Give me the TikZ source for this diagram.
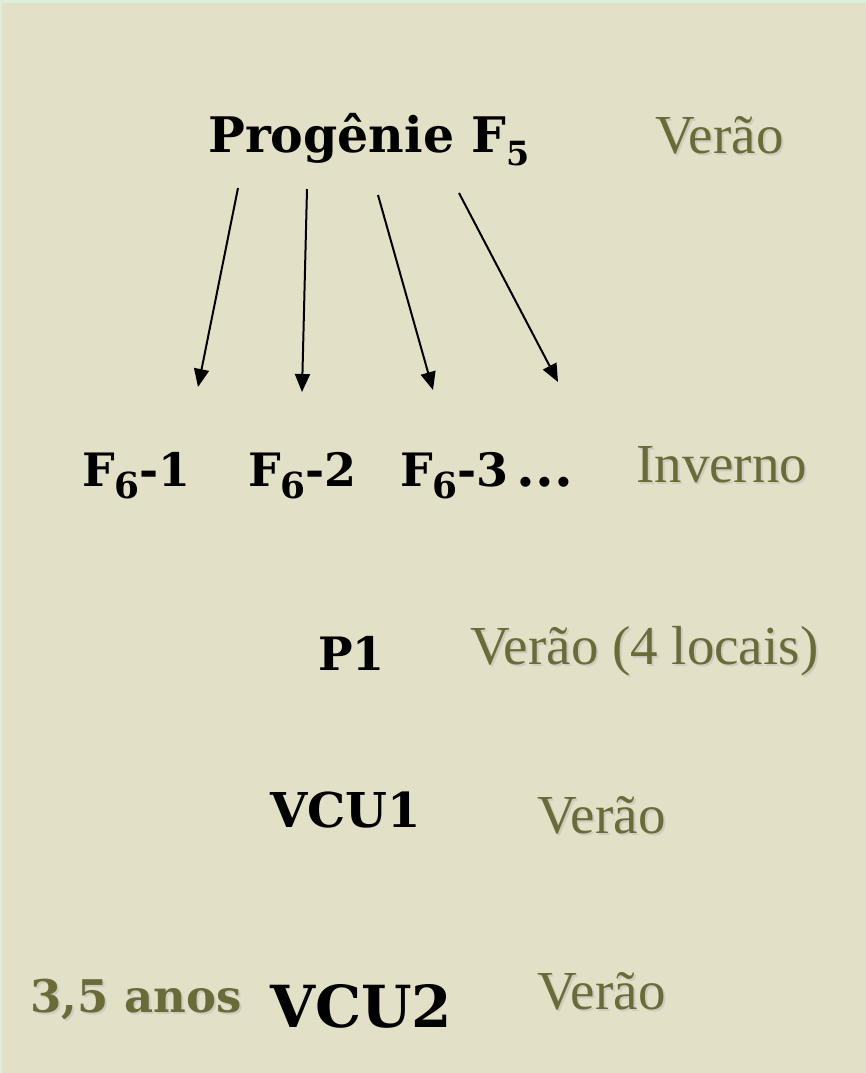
\documentclass[tikz,border=0pt]{standalone}
\usepackage{fontspec}
\setmainfont{Liberation Serif}
\newfontfamily\slab{DejaVu Serif}
\usetikzlibrary{arrows.meta}

\definecolor{paper}{HTML}{E2E0C6}
\definecolor{rim}{HTML}{DDEEDA}
\definecolor{olive}{HTML}{6B6B3A}

% lowered, reduced index digit used in the generation labels
\newcommand{\gensub}[2][0.68]{\raisebox{-0.28em}{\fontsize{#1em}{#1em}\selectfont #2}}

\tikzset{
  x=1pt, y=-1pt,
  bold/.style={anchor=base west, inner sep=0pt, font=\slab\bfseries},
  season/.style={anchor=base west, inner sep=0pt, text=olive},
  haze/.style={anchor=base west, inner sep=0pt, text=black!25, opacity=0.6},
  arrowline/.style={line width=2pt, -{Triangle[length=18pt,width=15pt]}}
}

\begin{document}
\begin{tikzpicture}
  % page and frame
  \fill[rim] (0,0) rectangle (866,1073);
  \fill[paper] (2,3) rectangle (866,1073);
  \useasboundingbox (0,0) rectangle (866,1073);

  % generation labels
  \node[bold, font=\slab\bfseries\fontsize{49}{49}\selectfont] (f5) at (208,152) {Progênie F\gensub{5}};
  \node[bold, font=\slab\bfseries\fontsize{46}{46}\selectfont] (f61) at (82,486) {F\gensub[0.78]{6}-1};
  \node[bold, font=\slab\bfseries\fontsize{46}{46}\selectfont] (f62) at (248,486) {F\gensub[0.78]{6}-2};
  \node[bold, font=\slab\bfseries\fontsize{46}{46}\selectfont] (f63) at (400,486) {F\gensub[0.78]{6}-3\,\fontsize{54}{54}\selectfont...};
  \node[bold, font=\slab\bfseries\fontsize{46}{46}\selectfont] (p1) at (318,670) {P1};
  \node[bold, font=\slab\bfseries\fontsize{48}{48}\selectfont] (vcu1) at (270,827) {VCU1};
  \node[bold, font=\slab\bfseries\fontsize{58}{58}\selectfont] (vcu2) at (270,1027) {VCU2};

  % seasons, with a soft drop shadow
  \foreach \nm/\px/\py/\txt in {s1/655/153/{Verão}, s2/636/482/{Inverno},
      s3/470/664/{Verão (4 locais)}, s4/537/833/{Verão}, s5/537/1009/{Verão}} {
    \node[haze, font=\fontsize{55}{55}\selectfont] at (\px+2,\py+2) {\txt};
    \node[season, font=\fontsize{55}{55}\selectfont] (\nm) at (\px,\py) {\txt};
  }

  % total duration
  \node[haze, font=\slab\bfseries\fontsize{45}{45}\selectfont] at (32,1014) {3,5 anos};
  \node[bold, text=olive, font=\slab\bfseries\fontsize{45}{45}\selectfont] (dur) at (30,1012) {3,5 anos};

  % arrows from the F5 progeny to the F6 families
  \coordinate (a1s) at (238,188); \coordinate (a1e) at (198,387);
  \coordinate (a2s) at (307,189); \coordinate (a2e) at (302,392);
  \coordinate (a3s) at (378,195); \coordinate (a3e) at (433,390);
  \coordinate (a4s) at (459,193); \coordinate (a4e) at (558,382);
  \draw[arrowline] (a1s) -- (a1e);
  \draw[arrowline] (a2s) -- (a2e);
  \draw[arrowline] (a3s) -- (a3e);
  \draw[arrowline] (a4s) -- (a4e);
\end{tikzpicture}
\end{document}
